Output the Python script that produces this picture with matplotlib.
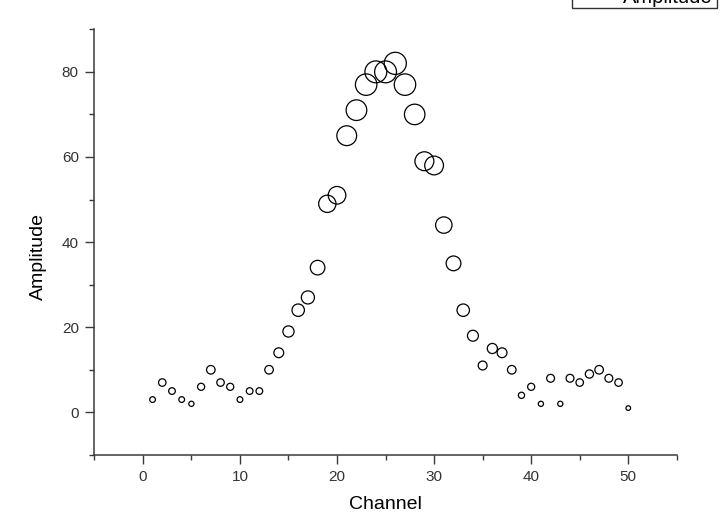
import matplotlib.pyplot as plt
from matplotlib.patches import Rectangle
from matplotlib.ticker import MultipleLocator
import numpy as np

plt.rcParams['font.family'] = ['Liberation Sans', 'DejaVu Sans']

channel = np.arange(1, 51)
amplitude = [3, 7, 5, 3, 2, 6, 10, 7, 6, 3,
             5, 5, 10, 14, 19, 24, 27, 34, 49, 51,
             65, 71, 77, 80, 80, 82, 77, 70, 59, 58,
             44, 35, 24, 18, 11, 15, 14, 10, 4, 6,
             2, 8, 2, 8, 7, 9, 10, 8, 7, 1]

fig = plt.figure(figsize=(7.2, 5.14), dpi=100)
ax = fig.add_axes([0.131, 0.115, 0.809, 0.828])

amp = np.array(amplitude)
ax.scatter(channel, amp, s=8 + 3.0 * amp, facecolors='none',
           edgecolors='black', linewidths=0.9)

ax.set_xlim(-5, 55)
ax.set_ylim(-10, 90)
ax.xaxis.set_major_locator(MultipleLocator(10))
ax.xaxis.set_minor_locator(MultipleLocator(5))
ax.yaxis.set_major_locator(MultipleLocator(20))
ax.yaxis.set_minor_locator(MultipleLocator(10))

for side in ['top', 'right']:
    ax.spines[side].set_visible(False)
for side in ['left', 'bottom']:
    ax.spines[side].set_color('#3a3a3a')
    ax.spines[side].set_linewidth(1.1)

ax.tick_params(which='major', length=6.2, width=1.0, color='#3a3a3a',
               labelsize=11, labelcolor='#333333', pad=5)
ax.tick_params(which='minor', length=3.6, width=1.0, color='#3a3a3a')

ax.set_xlabel('Channel', fontsize=14, va='baseline')
ax.xaxis.set_label_coords(0.5, -0.127)
ax.set_ylabel('Amplitude', fontsize=14, va='center')
ax.yaxis.set_label_coords(-0.0966, 0.467)

# legend box cut off at the top edge, as in the original
fig.patches.append(Rectangle((572 / 720, 506 / 514), 145 / 720, 0.1,
                             transform=fig.transFigure, facecolor='white',
                             edgecolor='#333333', linewidth=1.0))
fig.text(713 / 720, 511 / 514, 'Amplitude', fontsize=14.5,
         ha='right', va='baseline')

fig.savefig('out.png', dpi=100)
